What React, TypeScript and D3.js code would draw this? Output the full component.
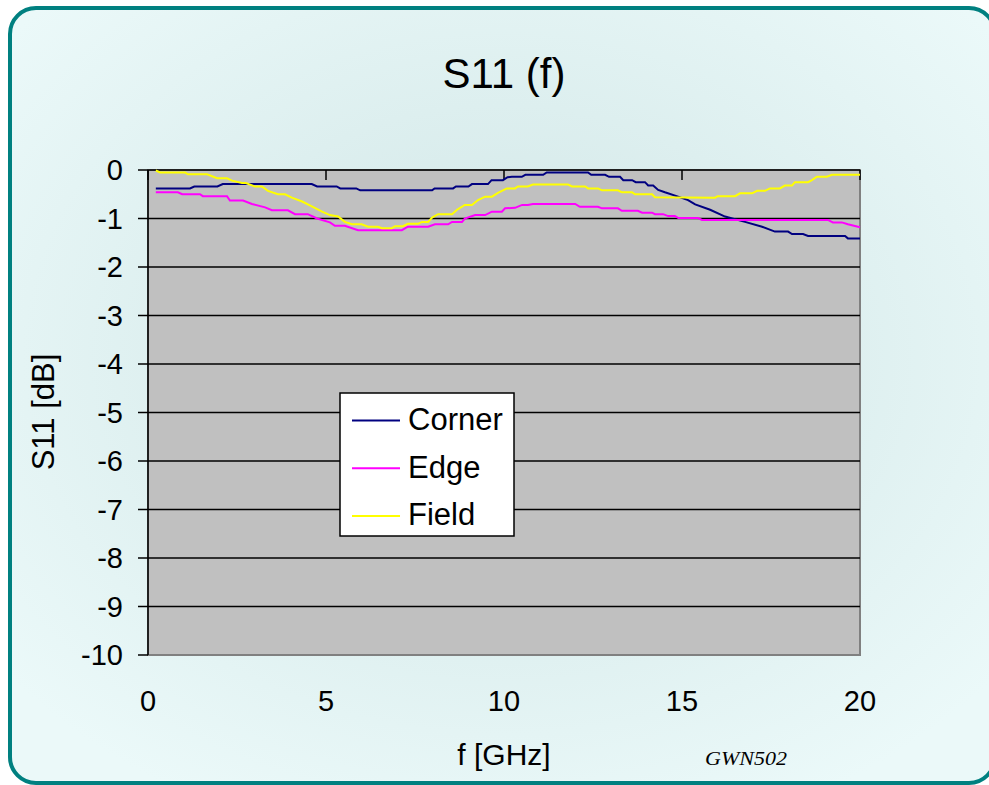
import React from "react";
import * as d3 from "d3";

const title = "S11 (f)";
const xTitle = "f [GHz]";
const yTitle = "S11 [dB]";
const watermark = "GWN502";
const xTicks = [0, 5, 10, 15, 20];
const yTicks = [0, -1, -2, -3, -4, -5, -6, -7, -8, -9, -10];
const seriesNames = ["Corner", "Edge", "Field"];
const seriesColors = ["#000080", "#ff00ff", "#ffff00"];

const cornerF = [0.22, 1.18, 1.3, 1.95, 2.1, 4.6, 4.75, 5.3, 5.4, 5.85, 5.96, 7.98, 8.05, 8.57, 8.65, 9.0, 9.1, 9.55, 9.65, 9.97, 10.1, 10.22, 10.5, 10.6, 11.1, 11.2, 12.36, 12.45, 12.84, 12.95, 13.26, 13.35, 13.6, 13.7, 13.96, 14.05, 14.19, 14.33, 14.52, 14.89, 15.17, 15.37, 15.79, 16.21, 16.77, 17.25, 17.61, 17.98, 18.09, 18.4, 18.54, 19.58, 19.66, 20];
const cornerDb = [-0.38, -0.38, -0.34, -0.34, -0.29, -0.29, -0.34, -0.34, -0.38, -0.38, -0.42, -0.42, -0.38, -0.38, -0.34, -0.34, -0.29, -0.29, -0.21, -0.21, -0.15, -0.14, -0.14, -0.1, -0.1, -0.05, -0.05, -0.1, -0.1, -0.14, -0.14, -0.21, -0.21, -0.25, -0.25, -0.32, -0.32, -0.41, -0.46, -0.55, -0.62, -0.71, -0.82, -0.96, -1.07, -1.17, -1.27, -1.27, -1.32, -1.32, -1.36, -1.36, -1.41, -1.41];

const edgeF = [0.22, 0.84, 0.96, 1.46, 1.54, 2.22, 2.3, 2.67, 2.92, 3.29, 3.48, 3.93, 4.13, 4.49, 4.75, 5.11, 5.25, 5.53, 5.9, 7.13, 7.3, 7.87, 8.06, 8.43, 8.54, 8.82, 8.9, 9.19, 9.47, 9.66, 9.94, 10.03, 10.31, 10.51, 10.67, 10.81, 12.0, 12.13, 12.64, 12.75, 13.2, 13.31, 13.76, 13.88, 14.16, 14.24, 14.47, 14.61, 14.8, 14.9, 15.45, 15.56, 19.1, 19.24, 19.49, 19.66, 20];
const edgeDb = [-0.46, -0.46, -0.5, -0.5, -0.54, -0.54, -0.63, -0.63, -0.7, -0.77, -0.83, -0.83, -0.91, -0.91, -1.0, -1.08, -1.15, -1.15, -1.24, -1.24, -1.17, -1.17, -1.12, -1.12, -1.07, -1.07, -1.0, -0.93, -0.93, -0.86, -0.86, -0.79, -0.78, -0.72, -0.72, -0.7, -0.7, -0.76, -0.76, -0.79, -0.79, -0.84, -0.84, -0.88, -0.88, -0.91, -0.91, -0.95, -0.95, -0.99, -0.99, -1.03, -1.03, -1.08, -1.08, -1.12, -1.18];

const fieldF = [0.22, 0.34, 1.04, 1.12, 1.66, 1.94, 2.22, 2.36, 2.64, 2.75, 3.0, 3.2, 3.37, 3.65, 3.85, 4.04, 4.33, 4.63, 4.89, 5.11, 5.34, 5.53, 5.73, 6.0, 6.18, 6.46, 6.57, 6.85, 6.94, 7.16, 7.3, 7.58, 7.7, 7.87, 7.98, 8.15, 8.54, 8.68, 8.9, 9.1, 9.27, 9.47, 9.66, 9.83, 10.08, 10.31, 10.39, 10.67, 10.81, 11.8, 11.91, 12.28, 12.36, 12.64, 12.75, 13.2, 13.31, 13.6, 13.68, 14.16, 14.24, 15.93, 16.0, 16.49, 16.63, 16.97, 17.11, 17.33, 17.47, 17.75, 17.89, 18.09, 18.17, 18.54, 18.65, 18.79, 19.07, 19.21, 20];
const fieldDb = [-0.01, -0.05, -0.05, -0.09, -0.09, -0.17, -0.17, -0.22, -0.27, -0.27, -0.34, -0.34, -0.43, -0.5, -0.5, -0.57, -0.65, -0.76, -0.86, -0.93, -0.96, -1.07, -1.12, -1.12, -1.17, -1.17, -1.2, -1.2, -1.16, -1.16, -1.11, -1.11, -1.07, -1.07, -0.98, -0.91, -0.91, -0.82, -0.72, -0.72, -0.62, -0.55, -0.55, -0.47, -0.38, -0.38, -0.34, -0.34, -0.3, -0.3, -0.34, -0.34, -0.38, -0.38, -0.42, -0.42, -0.46, -0.46, -0.5, -0.5, -0.56, -0.57, -0.54, -0.54, -0.48, -0.48, -0.43, -0.43, -0.38, -0.38, -0.32, -0.32, -0.25, -0.25, -0.21, -0.14, -0.14, -0.1, -0.1];

const seriesF = [cornerF, edgeF, fieldF];
const seriesDb = [cornerDb, edgeDb, fieldDb];

const W = 989;
const H = 785;
const PL = 148, PR = 860, PT = 170, PB = 655;
const FONT = "'Liberation Sans', Arial, sans-serif";

export default function App() {
  const x = d3.scaleLinear().domain([0, 20]).range([PL, PR]);
  const y = d3.scaleLinear().domain([-10, 0]).range([PB, PT]);
  const line = d3.line<[number, number]>().x((d) => x(d[0])).y((d) => y(d[1]));

  const lx = 340, ly = 393, lw = 174, lh = 143;

  return (
    <svg width={W} height={H} style={{ position: "absolute", left: 0, top: 0 }} xmlns="http://www.w3.org/2000/svg">
      <defs>
        <radialGradient id="bg" cx="50%" cy="45%" r="65%">
          <stop offset="0%" stopColor="#cfe5e5" />
          <stop offset="100%" stopColor="#ebf9f9" />
        </radialGradient>
      </defs>
      <rect x={0} y={0} width={W} height={H} fill="#ffffff" />
      <rect x={10} y={8} width={985} height={775} rx={26} ry={26} fill="url(#bg)" stroke="#008080" strokeWidth={4} />

      <text x={504} y={88} textAnchor="middle" fontFamily={FONT} fontSize={42} fill="#000">{title}</text>

      <rect x={PL} y={PT} width={PR - PL} height={PB - PT} fill="#c0c0c0" stroke="#808080" strokeWidth={2} />
      {yTicks.filter((t) => t !== -10).map((t) => (
        <line key={"g" + t} x1={PL} x2={PR} y1={y(t)} y2={y(t)} stroke="#000" strokeWidth={1.5} />
      ))}
      <line x1={PL} x2={PL} y1={PT} y2={PB} stroke="#000" strokeWidth={1.5} />
      {yTicks.map((t) => (
        <line key={"yt" + t} x1={PL - 10} x2={PL} y1={y(t)} y2={y(t)} stroke="#000" strokeWidth={1.5} />
      ))}
      {xTicks.map((t) => (
        <line key={"xt" + t} x1={x(t)} x2={x(t)} y1={PT} y2={PT + 10} stroke="#000" strokeWidth={1.5} />
      ))}

      {seriesF.map((fs, i) => (
        <path
          key={"s" + i}
          d={line(fs.map((f, j) => [f, seriesDb[i][j]] as [number, number])) || ""}
          fill="none"
          stroke={seriesColors[i]}
          strokeWidth={2}
        />
      ))}

      {yTicks.map((t) => (
        <text key={"yl" + t} x={123} y={y(t)} dy="0.36em" textAnchor="end" fontFamily={FONT} fontSize={29} fill="#000">{t}</text>
      ))}
      {xTicks.map((t) => (
        <text key={"xl" + t} x={x(t)} y={711} textAnchor="middle" fontFamily={FONT} fontSize={29} fill="#000">{t}</text>
      ))}

      <text x={504} y={765} textAnchor="middle" fontFamily={FONT} fontSize={30} fill="#000">{xTitle}</text>
      <text transform="translate(54,412) rotate(-90)" textAnchor="middle" fontFamily={FONT} fontSize={31} fill="#000">{yTitle}</text>

      <text x={705} y={765} fontFamily="'Liberation Serif', 'DejaVu Serif', serif" fontStyle="italic" fontSize={18} textLength={82} lengthAdjust="spacingAndGlyphs" fill="#000">{watermark}</text>

      <rect x={lx} y={ly} width={lw} height={lh} fill="#ffffff" stroke="#000" strokeWidth={1.5} />
      {seriesNames.map((n, i) => (
        <g key={"lg" + n}>
          <line x1={352} x2={400} y1={420.5 + i * 47.7} y2={420.5 + i * 47.7} stroke={seriesColors[i]} strokeWidth={2} />
          <text x={408} y={430 + i * 47.7} fontFamily={FONT} fontSize={31} fill="#000">{n}</text>
        </g>
      ))}
    </svg>
  );
}
